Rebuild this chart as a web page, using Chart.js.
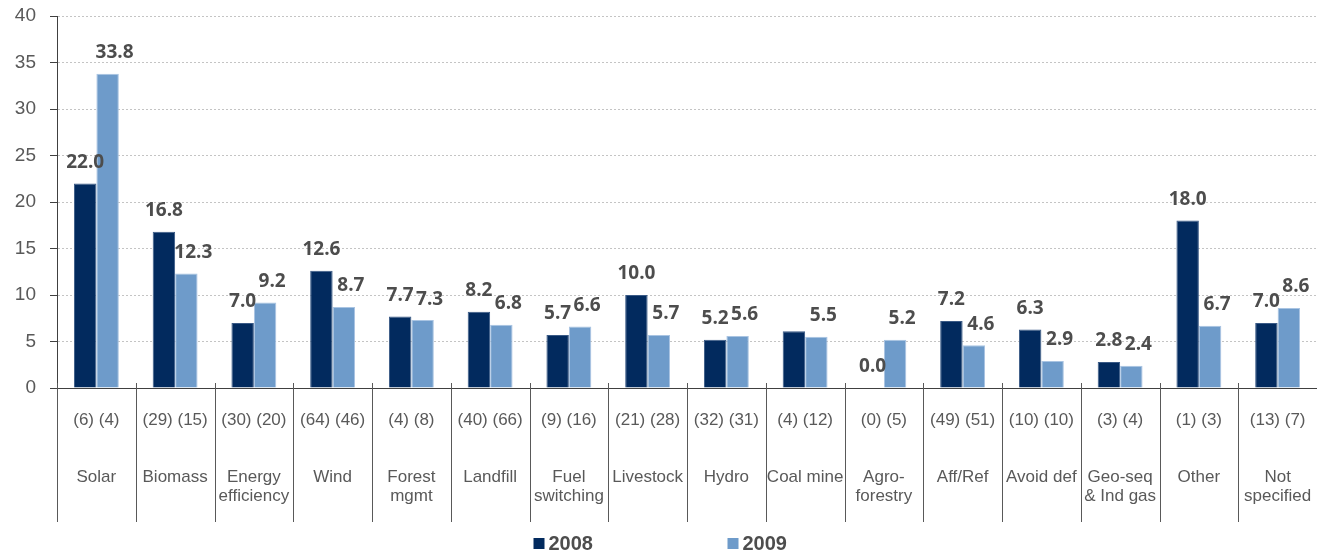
<!DOCTYPE html>
<html lang="en">
<head>
    <meta charset="UTF-8">
    <title>Credits by project type, 2008 vs 2009</title>
    <script src="https://cdn.jsdelivr.net/npm/chart.js@4/dist/chart.umd.min.js"></script>
    <style>
        html, body { margin: 0; padding: 0; background: #fff; }
        #wrap { width: 1317px; height: 554px; position: relative; }
    </style>
</head>
<body>
    <div id="wrap"><canvas id="chart"></canvas></div>

    <script>
        // categories (project type) and number of projects per year
        const categories = ['Solar', 'Biomass', ['Energy', 'efficiency'], 'Wind', ['Forest', 'mgmt'], 'Landfill',
            ['Fuel', 'switching'], 'Livestock', 'Hydro', 'Coal mine', ['Agro-', 'forestry'], 'Aff/Ref',
            'Avoid def', ['Geo-seq', '& Ind gas'], 'Other', ['Not', 'specified']];
        const counts2008 = [6, 29, 30, 64, 4, 40, 9, 21, 32, 4, 0, 49, 10, 3, 1, 13];
        const counts2009 = [4, 15, 20, 46, 8, 66, 16, 28, 31, 12, 5, 51, 10, 4, 3, 7];

        // series values
        const values2008 = [22.0, 16.8, 7.0, 12.6, 7.7, 8.2, 5.7, 10.0, 5.2, 6.1, 0.0, 7.2, 6.3, 2.8, 18.0, 7.0];
        const values2009 = [33.8, 12.3, 9.2, 8.7, 7.3, 6.8, 6.6, 5.7, 5.6, 5.5, 5.2, 4.6, 2.9, 2.4, 6.7, 8.6];

        // value labels not printed in the source chart
        const hiddenLabels2008 = ['Coal mine'];

        const yTicks = [0, 5, 10, 15, 20, 25, 30, 35, 40];

        const DARK = '#022a5e';
        const LIGHT = '#6e9bca';
        const TEXT = '#595959';

        // x tick labels: counts row, two blank lines, then the name
        const xLabels = categories.map((c, i) => {
            const name = Array.isArray(c) ? c : [c];
            return ['(' + counts2008[i] + ') (' + counts2009[i] + ')', '', ''].concat(name);
        });

        const catName = c => Array.isArray(c) ? c.join(' ') : c;

        // value labels above bars (2009 labels sit a little to the right, as in the source)
        const labelShift = [0, 7];
        const valueLabels = {
            id: 'valueLabels',
            afterDatasetsDraw(chart) {
                const ctx = chart.ctx;
                ctx.save();
                ctx.font = 'bold 19px "Open Sans", sans-serif';
                ctx.fillStyle = '#4d4d4d';
                ctx.textAlign = 'center';
                ctx.textBaseline = 'middle';
                chart.data.datasets.forEach((ds, di) => {
                    chart.getDatasetMeta(di).data.forEach((bar, i) => {
                        if (di === 0 && hiddenLabels2008.includes(catName(categories[i]))) return;
                        ctx.fillText(ds.data[i].toFixed(1), bar.x + labelShift[di], bar.y - 21);
                    });
                });
                ctx.restore();
            }
        };

        // category divider lines below the axis
        const dividers = {
            id: 'dividers',
            afterDraw(chart) {
                const x = chart.scales.x;
                const ctx = chart.ctx;
                const bottom = chart.chartArea.bottom;
                const half = (x.getPixelForValue(1) - x.getPixelForValue(0)) / 2;
                ctx.save();
                ctx.strokeStyle = '#595959';
                ctx.lineWidth = 1;
                ctx.beginPath();
                for (let i = 0; i < categories.length; i++) {
                    const px = Math.round(x.getPixelForValue(i) - half) + 0.5;
                    ctx.moveTo(px, bottom - 5);
                    ctx.lineTo(px, bottom + 134);
                }
                ctx.stroke();
                ctx.restore();
            }
        };

        // legend centred under the chart
        const bottomLegend = {
            id: 'bottomLegend',
            afterDraw(chart) {
                const ctx = chart.ctx;
                const start = chart.width / 2 - 125;
                const y = 544;
                ctx.save();
                ctx.font = 'bold 20px "Liberation Sans", Arial, sans-serif';
                ctx.textBaseline = 'middle';
                ctx.textAlign = 'left';
                chart.data.datasets.forEach((ds, i) => {
                    const bx = start + i * 194;
                    ctx.fillStyle = ds.backgroundColor;
                    ctx.fillRect(bx, y - 6, 11, 11);
                    ctx.fillStyle = '#4d4d4d';
                    ctx.fillText(ds.label, bx + 15, y);
                });
                ctx.restore();
            }
        };

        new Chart(document.getElementById('chart'), {
            type: 'bar',
            data: {
                labels: xLabels,
                datasets: [
                    { label: '2008', data: values2008, backgroundColor: DARK, borderColor: '#3a5a86', borderWidth: 1 },
                    { label: '2009', data: values2009, backgroundColor: LIGHT, borderColor: '#a9c4e2', borderWidth: 1 }
                ]
            },
            options: {
                responsive: true,
                maintainAspectRatio: false,
                animation: false,
                layout: { padding: { top: 16, right: 0, bottom: 0, left: 0 } },
                datasets: { bar: { barPercentage: 1, categoryPercentage: 0.57 } },
                plugins: {
                    legend: { display: false },
                    tooltip: { enabled: false }
                },
                scales: {
                    x: {
                        offset: true,
                        grid: { display: false, drawTicks: false },
                        border: { display: true, color: '#404040', width: 1 },
                        ticks: {
                            maxRotation: 0,
                            autoSkip: false,
                            padding: 23,
                            color: TEXT,
                            font: { family: '"Liberation Sans", Arial, sans-serif', size: 17, lineHeight: '19px' }
                        },
                        afterFit: s => { s.height = 166; s.paddingLeft = 0; s.paddingRight = 0; }
                    },
                    y: {
                        min: 0,
                        max: 40,
                        afterBuildTicks: s => { s.ticks = yTicks.map(v => ({ value: v })); },
                        grid: { color: '#c4c4c4', tickColor: '#404040', tickLength: 7 },
                        border: { display: true, color: '#404040', width: 1, dash: [2, 2] },
                        ticks: {
                            padding: 14,
                            color: TEXT,
                            font: { family: '"Liberation Sans", Arial, sans-serif', size: 19 }
                        },
                        afterFit: s => { s.width = 57; s.paddingTop = 0; s.paddingBottom = 0; }
                    }
                }
            },
            plugins: [valueLabels, dividers, bottomLegend]
        });
    </script>
</body>
</html>
